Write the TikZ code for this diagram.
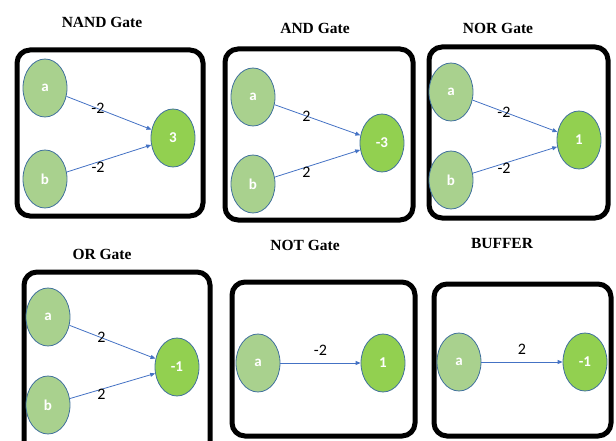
\documentclass[tikz,border=0pt]{standalone}
\usepackage{fontspec}
\setmainfont{Liberation Serif}
\newfontfamily\calibri{Carlito}
\usetikzlibrary{arrows.meta,shapes.geometric}
\definecolor{inputgreen}{HTML}{A9D18E}
\definecolor{outputgreen}{HTML}{92D050}
\definecolor{rimblue}{HTML}{41719C}
\definecolor{edgeblue}{HTML}{4472C4}
\tikzset{
  gatebox/.style={draw=black, line width=5pt, rounded corners=13pt},
  gatetitle/.style={font=\fontsize{15.5}{15.5}\selectfont\bfseries},
  neuron/.style={ellipse, draw=rimblue, line width=0.8pt, minimum width=44pt,
    minimum height=58pt, inner sep=0pt, text=white,
    font=\calibri\fontsize{15}{15}\selectfont\bfseries},
  innode/.style={neuron, fill=inputgreen},
  outnode/.style={neuron, fill=outputgreen},
  weight/.style={-{Triangle[length=5pt,width=4pt]}, draw=edgeblue, line width=0.8pt},
  wlabel/.style={font=\calibri\fontsize{16}{16}\selectfont, text=black, inner sep=0pt},
}
\begin{document}
\begin{tikzpicture}[x=1pt,y=-1pt]
\useasboundingbox (0,0) rectangle (616,441);

% frames around the six networks
\draw[gatebox] (17,50) rectangle (203,216);
\draw[gatebox] (225,49) rectangle (413,220);
\draw[gatebox] (429,47) rectangle (608,218);
\draw[gatebox] (24,272) rectangle (210,465);
\draw[gatebox] (232,282) rectangle (415,436);
\draw[gatebox] (434,284) rectangle (611,436);

% titles
\node[gatetitle] (tnand) at (102,22) {NAND Gate};
\node[gatetitle] (tand) at (315,28) {AND Gate};
\node[gatetitle] (tnor) at (498,28) {NOR Gate};
\node[gatetitle] (tor) at (102,254) {OR Gate};
\node[gatetitle] (tnot) at (305,245) {NOT Gate};
\node[gatetitle] (tbuf) at (502,243) {BUFFER};

% NAND
\node[innode] (nanda) at (45,88) {a};
\node[innode] (nandb) at (45,179) {b};
\node[outnode] (nando) at (173,138) {3};
\draw[weight] (nanda) -- node[wlabel, pos=0.37] {-2} (nando);
\draw[weight] (nandb) -- node[wlabel, pos=0.37, yshift=-5pt] {-2} (nando);

% AND
\node[innode] (anda) at (253,97) {a};
\node[innode] (andb) at (253,184) {b};
\node[outnode] (ando) at (382,143) {-3};
\draw[weight] (anda) -- node[wlabel, pos=0.37] {2} (ando);
\draw[weight] (andb) -- node[wlabel, pos=0.37, yshift=-5pt] {2} (ando);

% NOR
\node[innode] (nora) at (451,92) {a};
\node[innode] (norb) at (451,180) {b};
\node[outnode] (noro) at (579,140) {1};
\draw[weight] (nora) -- node[wlabel, pos=0.37] {-2} (noro);
\draw[weight] (norb) -- node[wlabel, pos=0.37, yshift=-5pt] {-2} (noro);

% OR
\node[innode] (ora) at (48,317) {a};
\node[innode] (orb) at (48,405) {b};
\node[outnode] (oro) at (177,367) {-1};
\draw[weight] (ora) -- node[wlabel, pos=0.37] {2} (oro);
\draw[weight] (orb) -- node[wlabel, pos=0.37, yshift=-5pt] {2} (oro);

% NOT
\node[innode] (nota) at (258,363) {a};
\node[outnode] (noto) at (383,363) {1};
\draw[weight] (nota) -- node[wlabel, above=7pt] {-2} (noto);

% BUFFER
\node[innode] (bufa) at (459,362) {a};
\node[outnode] (bufo) at (585,362) {-1};
\draw[weight] (bufa) -- node[wlabel, above=7pt] {2} (bufo);
\end{tikzpicture}
\end{document}
